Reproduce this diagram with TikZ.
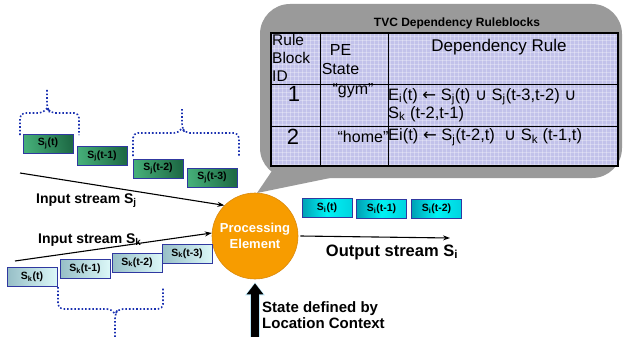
\documentclass[tikz,border=0pt]{standalone}
\usepackage{fontspec}
\setmainfont{Liberation Sans}
\newfontfamily\symf{DejaVu Sans}
\usetikzlibrary{arrows.meta}
\newcommand\sbs[1]{\textsubscript{#1}}
\definecolor{calloutgray}{HTML}{9A9A9A}
\definecolor{tablefill}{HTML}{C2C2EA}
\definecolor{boxedge}{HTML}{3038A0}
\definecolor{bracecol}{HTML}{1A30B0}
\definecolor{peorange}{HTML}{F79C00}
\definecolor{peedge}{HTML}{D98A10}
\definecolor{gA}{HTML}{45AE78}
\definecolor{gB}{HTML}{1E6A45}
\definecolor{kA}{HTML}{96BEC6}
\definecolor{kB}{HTML}{DCF8F8}
\definecolor{iA}{HTML}{00A0B4}
\definecolor{iM}{HTML}{00F2F4}
\definecolor{iB}{HTML}{00D4E0}
\tikzset{
  sbox/.style={draw=boxedge, line width=0.9pt, minimum width=50pt, minimum height=19pt, inner sep=0pt,
    font=\bfseries\fontsize{10.5}{12}\selectfont},
  jbox/.style={sbox, left color=gA, right color=gB, shading angle=100},
  kbox/.style={sbox, left color=kA, right color=kB},
  ibox/.style={sbox, left color=iA, right color=iB, middle color=iM},
  conn/.style={line width=1.1pt, -{Stealth[length=7pt,width=5pt]}},
  brace/.style={bracecol, line width=1.6pt, dotted, rounded corners=5pt},
  lbl/.style={font=\bfseries\fontsize{14}{16}\selectfont, inner sep=0pt},
  tt/.style={inner sep=0pt, font=\fontsize{16}{19}\selectfont},
}
\begin{document}
\begin{tikzpicture}[x=1pt,y=-1pt]
\path[use as bounding box] (0,0) rectangle (624,337);
% callout
\fill[calloutgray, rounded corners=30pt] (260,4) rectangle (622,178);
\fill[calloutgray] (257,193) -- (278,162) -- (335,177) -- cycle;
% table
\fill[tablefill] (271,33) rectangle (618,166);
\foreach \gx in {274,278,...,618} \draw[white, opacity=0.3, line width=0.4pt] (\gx,33) -- (\gx,166);
\foreach \gy in {36,40,...,166} \draw[white, opacity=0.3, line width=0.4pt] (271,\gy) -- (618,\gy);
\draw[line width=1pt] (320,33) -- (320,166) (388,33) -- (388,166) (271,85) -- (618,85) (271,126) -- (618,126);
\draw[line width=1.6pt] (271,33) rectangle (618,166);
\node[font=\bfseries\fontsize{12}{14}\selectfont] (title) at (457,23) {TVC Dependency Ruleblocks};
\node[tt, anchor=north west, align=left, font=\fontsize{15.5}{18}\selectfont] (hdrid) at (272,34) {Rule\\Block\\ID};
\node[tt, align=center] (hdrpe) at (340.5,59.5) {PE\\State};
\node[tt, font=\fontsize{17}{19}\selectfont] (hdrdep) at (499,47) {Dependency Rule};
\node[tt, font=\fontsize{22}{24}\selectfont] (id1) at (294,94) {1};
\node[tt, font=\fontsize{22}{24}\selectfont] (id2) at (293,137) {2};
\node[tt] (pe1) at (353,91) {“gym”};
\node[tt] (pe2) at (363,137) {“home”};
\node[tt, anchor=north west, align=left, font=\fontsize{16.5}{15}\selectfont] (r1) at (388,88)
  {E\sbs{i}(t) {\symf ←} S\sbs{j}(t) {\symf ∪} S\sbs{j}(t-3,t-2) {\symf ∪}\\S\sbs{k} (t-2,t-1)};
\node[tt, anchor=west, font=\fontsize{16.5}{19}\selectfont] (r2) at (388,137) {Ei(t) {\symf ←} S\sbs{j}(t-2,t)\ \ {\symf ∪} S\sbs{k} (t-1,t)};
% processing element
\node[circle, fill=peorange, draw=peedge, line width=0.6pt, minimum size=86pt, inner sep=0pt, align=center,
  text=white, font=\bfseries\fontsize{13}{16}\selectfont] (PE) at (255,236) {Processing\\Element};
% Sj boxes
\node[jbox] (sj0) at (48,143.5) {S\sbs{j}(t)};
\node[jbox] (sj1) at (102,156) {S\sbs{j}(t-1)};
\node[jbox] (sj2) at (158,168.5) {S\sbs{j}(t-2)};
\node[jbox] (sj3) at (212,177.5) {S\sbs{j}(t-3)};
% Sk boxes
\node[kbox] (sk0) at (32,277) {S\sbs{k}(t)};
\node[kbox] (sk1) at (85,269) {S\sbs{k}(t-1)};
\node[kbox] (sk2) at (137,262.5) {S\sbs{k}(t-2)};
\node[kbox] (sk3) at (187,253.5) {S\sbs{k}(t-3)};
% Si boxes
\node[ibox] (si0) at (327,208) {S\sbs{i}(t)};
\node[ibox] (si1) at (381.5,209) {S\sbs{i}(t-1)};
\node[ibox] (si2) at (436.5,209) {S\sbs{i}(t-2)};
% braces
\draw[brace] (20,135) -- (20,113) -- (44,113) -- (47,108);
\draw[brace] (47,90) -- (47,108) -- (50,113) -- (79,113) -- (79,135);
\draw[brace] (133,156) -- (133,133) -- (179,133) -- (182,128);
\draw[brace] (182,109) -- (182,128) -- (185,133) -- (239,133) -- (239,156);
\draw[brace] (58,287) -- (58,309) -- (112,309) -- (115,314);
\draw[brace] (115,337) -- (115,314) -- (118,309) -- (163,309) -- (163,287);
% input streams
\coordinate (sjstart) at (20,173);
\coordinate (skstart) at (15,261);
\draw[conn] (sjstart) -- (PE.135);
\draw[conn] (skstart) -- (PE.176);
\node[lbl, anchor=west] (sjlbl) at (36,201) {Input stream S\sbs{j}};
\node[lbl, anchor=west] (sklbl) at (38,240) {Input stream S\sbs{k}};
% output stream
\coordinate (outend) at (450,238);
\draw[conn] (PE.east) ++(2,0) -- (outend);
\node[lbl, font=\bfseries\fontsize{16.5}{18}\selectfont] (outlbl) at (392,252) {Output stream S\sbs{i}};
% state arrow
\coordinate (upbase) at (255,337);
\draw[line width=9.5pt, draw=cyan!25, shorten >=3pt, -{Triangle[length=13pt,width=19pt]}] (upbase) -- (PE.south);
\draw[line width=7.5pt, shorten >=4pt, -{Triangle[length=11pt,width=16pt]}] (upbase) -- (PE.south);
\node[lbl, anchor=west, align=left, font=\bfseries\fontsize{15}{16.5}\selectfont] (statelbl) at (262,315) {State defined by\\Location Context};
\end{tikzpicture}
\end{document}
